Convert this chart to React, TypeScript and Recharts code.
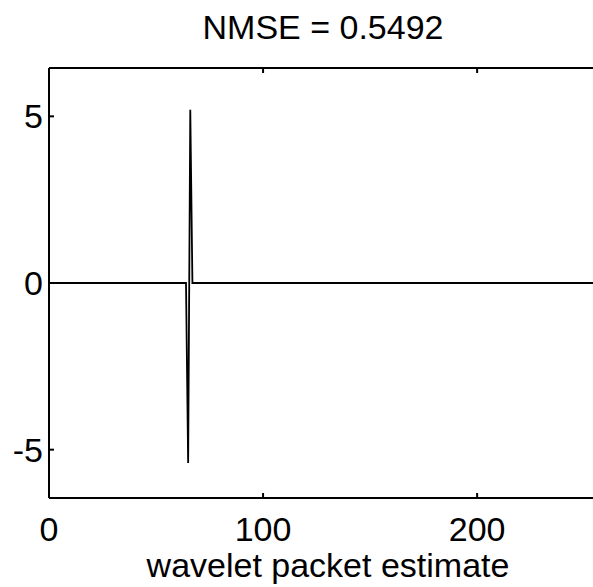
import { LineChart, Line, XAxis, YAxis, Label } from 'recharts'

// sample index and estimate value at the points where the trace changes
const sampleIdx = [0, 64, 65, 66, 67, 255]
const estimate = [0, 0, -5.4, 5.2, 0, 0]

const xTicks = [0, 100, 200]
const yTicks = [-5, 0, 5]

const chartData = sampleIdx.map((x, i) => ({ x, y: estimate[i] }))

const FONT = '"Liberation Sans", Arial, Helvetica, sans-serif'
const TICK_LEN = 5

const LeftTick = (props: any) => {
  const { x, y, payload } = props
  return (
    <g>
      <line x1={x} y1={y} x2={x + TICK_LEN} y2={y} stroke="#000" strokeWidth={2} />
      <text x={x - 6} y={y + 12} textAnchor="end" fontSize={34} fontFamily={FONT} fill="#000">
        {payload.value}
      </text>
    </g>
  )
}

const RightTick = (props: any) => {
  const { x, y } = props
  return <line x1={x} y1={y} x2={x - TICK_LEN} y2={y} stroke="#000" strokeWidth={2} />
}

const BottomTick = (props: any) => {
  const { x, y, payload } = props
  return (
    <g>
      <line x1={x} y1={y} x2={x} y2={y - TICK_LEN} stroke="#000" strokeWidth={2} />
      <text x={x} y={y + 43} textAnchor="middle" fontSize={34} fontFamily={FONT} fill="#000">
        {payload.value}
      </text>
    </g>
  )
}

const TopTick = (props: any) => {
  const { x, y } = props
  return <line x1={x} y1={y} x2={x} y2={y + TICK_LEN} stroke="#000" strokeWidth={2} />
}

const axisStyle = { stroke: '#000', strokeWidth: 2 }

export default function App() {
  return (
    <div style={{ position: 'relative', width: 593, height: 587, overflow: 'hidden', background: '#fff' }}>
      <style>{'body{margin:0}'}</style>
      <div
        style={{
          position: 'absolute',
          left: 0,
          width: 646,
          top: 7,
          textAlign: 'center',
          fontFamily: FONT,
          fontSize: 34,
          lineHeight: '40px',
          color: '#000',
        }}
      >
        NMSE = 0.5492
      </div>
      <LineChart
        width={603}
        height={587}
        data={chartData}
        margin={{ top: 67, right: 5, bottom: 88, left: 48 }}
      >
        <XAxis
          dataKey="x"
          type="number"
          domain={[0, 256]}
          ticks={xTicks}
          height={1}
          tickSize={0}
          tickMargin={0}
          tickLine={false}
          tick={<BottomTick />}
          axisLine={axisStyle}
        >
          <Label
            content={(p: any) => {
              const vb = p.viewBox
              return (
                <text
                  x={vb.x + vb.width / 2 + 5}
                  y={577}
                  textAnchor="middle"
                  fontSize={34}
                  fontFamily={FONT}
                  fill="#000"
                >
                  wavelet packet estimate
                </text>
              )
            }}
          />
        </XAxis>
        <XAxis
          xAxisId="top"
          orientation="top"
          dataKey="x"
          type="number"
          domain={[0, 256]}
          ticks={xTicks}
          height={1}
          tickSize={0}
          tickMargin={0}
          tickLine={false}
          tick={<TopTick />}
          axisLine={axisStyle}
        />
        <YAxis
          type="number"
          domain={[-6.45, 6.45]}
          ticks={yTicks}
          width={1}
          tickSize={0}
          tickMargin={0}
          tickLine={false}
          tick={<LeftTick />}
          axisLine={axisStyle}
        />
        <YAxis
          yAxisId="right"
          orientation="right"
          type="number"
          domain={[-6.45, 6.45]}
          ticks={yTicks}
          width={1}
          tickSize={0}
          tickMargin={0}
          tickLine={false}
          tick={<RightTick />}
          axisLine={axisStyle}
        />
        <Line
          dataKey="y"
          type="linear"
          stroke="#000"
          strokeWidth={1.8}
          dot={false}
          isAnimationActive={false}
        />
      </LineChart>
    </div>
  )
}
